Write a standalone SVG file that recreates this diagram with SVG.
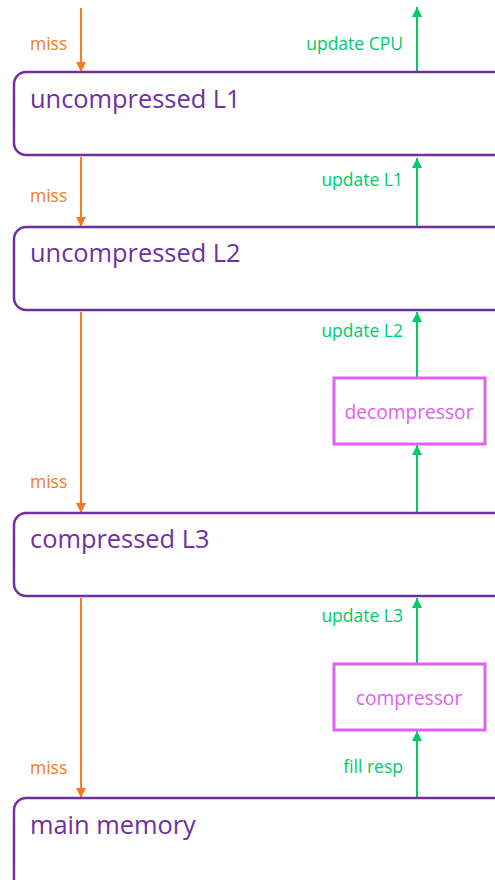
<svg xmlns="http://www.w3.org/2000/svg" width="495" height="880" viewBox="0 0 495 880">
<style>
.cache{fill:#fff;stroke:#7030A0;stroke-width:2.5}
.proc{fill:#fff;stroke:#E060F0;stroke-width:3}
.ct{font-family:"Open Sans","Liberation Sans",sans-serif;font-size:25.4px;fill:#7030A0}
.pt{font-family:"Open Sans","Liberation Sans",sans-serif;font-size:19.2px;fill:#E060F0;text-anchor:middle}
.miss{font-family:"Open Sans","Liberation Sans",sans-serif;font-size:17.5px;fill:#F47B20}
.upd{font-family:"Open Sans","Liberation Sans",sans-serif;font-size:17.5px;fill:#00CC66;text-anchor:end}
.o{stroke:#F47B20;stroke-width:2;fill:none;marker-end:url(#ao)}
.g{stroke:#00CC66;stroke-width:2;fill:none;marker-end:url(#ag)}
</style>
<defs>
<marker id="ao" viewBox="0 0 10 10" refX="10" refY="5" markerWidth="5" markerHeight="5" orient="auto" markerUnits="strokeWidth"><path d="M0,0L10,5L0,10z" fill="#F47B20"/></marker>
<marker id="ag" viewBox="0 0 10 10" refX="10" refY="5" markerWidth="5" markerHeight="5" orient="auto" markerUnits="strokeWidth"><path d="M0,0L10,5L0,10z" fill="#00CC66"/></marker>
</defs>
<g id="connectors">
<line class="o" x1="81" y1="8" x2="81" y2="72"/>
<line class="o" x1="81" y1="157" x2="81" y2="227"/>
<line class="o" x1="81" y1="312" x2="81" y2="513"/>
<line class="o" x1="81" y1="598" x2="81" y2="798"/>
<line class="g" x1="417" y1="72" x2="417" y2="7"/>
<line class="g" x1="417" y1="227" x2="417" y2="158"/>
<line class="g" x1="417" y1="377" x2="417" y2="312"/>
<line class="g" x1="417" y1="513" x2="417" y2="445"/>
<line class="g" x1="417" y1="663" x2="417" y2="598"/>
<line class="g" x1="417" y1="798" x2="417" y2="731"/>
<text class="miss" x="30" y="50">miss</text>
<text class="miss" x="30" y="202">miss</text>
<text class="miss" x="30" y="488">miss</text>
<text class="miss" x="30" y="774">miss</text>
<text class="upd" x="403" y="50">update CPU</text>
<text class="upd" x="403" y="186">update L1</text>
<text class="upd" x="403" y="337">update L2</text>
<text class="upd" x="403" y="622">update L3</text>
<text class="upd" x="403" y="773">fill resp</text>
</g>
<g id="l1"><rect class="cache" x="14" y="72" width="496" height="83" rx="12"/><text class="ct" x="30" y="108">uncompressed L1</text></g>
<g id="l2"><rect class="cache" x="14" y="227" width="496" height="83" rx="12"/><text class="ct" x="30" y="262">uncompressed L2</text></g>
<g id="l3"><rect class="cache" x="14" y="513" width="496" height="83" rx="12"/><text class="ct" x="30" y="548">compressed L3</text></g>
<g id="mem"><rect class="cache" x="14" y="798" width="496" height="100" rx="12"/><text class="ct" x="30" y="834">main memory</text></g>
<g id="decompressor"><rect class="proc" x="334" y="378" width="151" height="66"/><text class="pt" x="409" y="419">decompressor</text></g>
<g id="compressor"><rect class="proc" x="334" y="664" width="151" height="66"/><text class="pt" x="409" y="705">compressor</text></g>
</svg>
